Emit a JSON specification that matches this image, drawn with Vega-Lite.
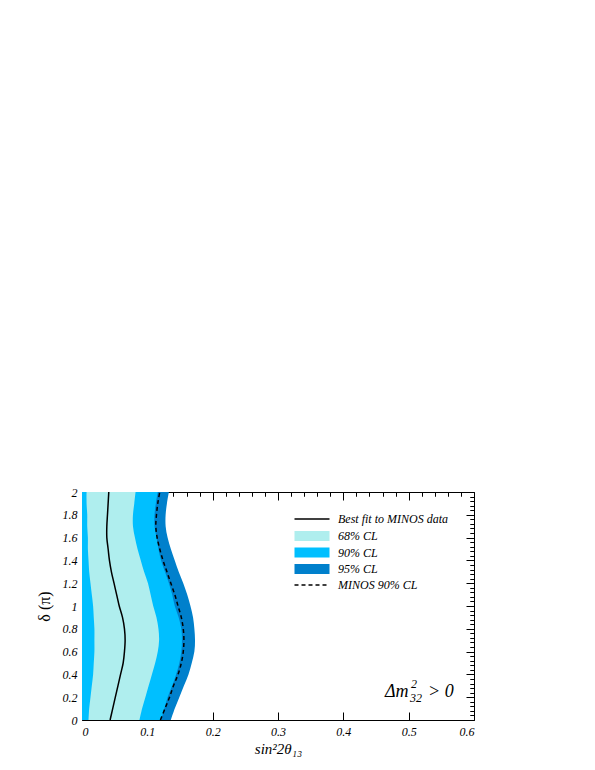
{
  "$schema": "https://vega.github.io/schema/vega-lite/v6.json",
  "width": 392,
  "height": 228,
  "autosize": {"type": "none"},
  "padding": {"left": 82, "top": 492, "right": 121, "bottom": 50},
  "background": "white",
  "config": {
    "view": {"stroke": "black", "strokeWidth": 1},
    "axis": {
      "domain": false, "grid": false, "tickColor": "black", "tickWidth": 1,
      "labelFont": "Liberation Serif", "labelFontStyle": "italic", "labelFontSize": 12, "labelColor": "black",
      "titleFont": "Liberation Serif", "titleColor": "black", "titleFontWeight": "normal"
    },
    "legend": {
      "title": null, "orient": "none", "symbolSize": 100, "labelOffset": 20, "rowPadding": 4.5,
      "labelFont": "Liberation Serif", "labelFontStyle": "italic", "labelFontSize": 12, "labelColor": "black",
      "symbolOpacity": 1
    }
  },
  "data": {"values": [
    {"d": 0.0, "l68": 0.010, "best": 0.043, "r68": 0.088, "r90": 0.121, "minos": 0.120, "r95": 0.136},
    {"d": 0.1, "l68": 0.011, "best": 0.047, "r68": 0.092, "r90": 0.126, "minos": 0.127, "r95": 0.142},
    {"d": 0.2, "l68": 0.013, "best": 0.051, "r68": 0.097, "r90": 0.131, "minos": 0.134, "r95": 0.149},
    {"d": 0.3, "l68": 0.015, "best": 0.055, "r68": 0.102, "r90": 0.138, "minos": 0.140, "r95": 0.156},
    {"d": 0.4, "l68": 0.017, "best": 0.059, "r68": 0.107, "r90": 0.144, "minos": 0.147, "r95": 0.163},
    {"d": 0.5, "l68": 0.018, "best": 0.063, "r68": 0.112, "r90": 0.149, "minos": 0.152, "r95": 0.168},
    {"d": 0.6, "l68": 0.019, "best": 0.065, "r68": 0.116, "r90": 0.152, "minos": 0.155, "r95": 0.172},
    {"d": 0.7, "l68": 0.019, "best": 0.066, "r68": 0.118, "r90": 0.153, "minos": 0.156, "r95": 0.173},
    {"d": 0.8, "l68": 0.019, "best": 0.065, "r68": 0.117, "r90": 0.152, "minos": 0.155, "r95": 0.172},
    {"d": 0.9, "l68": 0.018, "best": 0.062, "r68": 0.114, "r90": 0.148, "minos": 0.152, "r95": 0.170},
    {"d": 1.0, "l68": 0.017, "best": 0.057, "r68": 0.109, "r90": 0.142, "minos": 0.147, "r95": 0.166},
    {"d": 1.1, "l68": 0.015, "best": 0.053, "r68": 0.105, "r90": 0.138, "minos": 0.142, "r95": 0.161},
    {"d": 1.2, "l68": 0.013, "best": 0.049, "r68": 0.101, "r90": 0.133, "minos": 0.136, "r95": 0.155},
    {"d": 1.3, "l68": 0.011, "best": 0.045, "r68": 0.095, "r90": 0.127, "minos": 0.130, "r95": 0.148},
    {"d": 1.4, "l68": 0.010, "best": 0.042, "r68": 0.090, "r90": 0.121, "minos": 0.124, "r95": 0.142},
    {"d": 1.5, "l68": 0.009, "best": 0.040, "r68": 0.085, "r90": 0.117, "minos": 0.119, "r95": 0.136},
    {"d": 1.6, "l68": 0.009, "best": 0.038, "r68": 0.081, "r90": 0.114, "minos": 0.115, "r95": 0.131},
    {"d": 1.7, "l68": 0.008, "best": 0.038, "r68": 0.078, "r90": 0.111, "minos": 0.113, "r95": 0.128},
    {"d": 1.8, "l68": 0.008, "best": 0.039, "r68": 0.078, "r90": 0.111, "minos": 0.114, "r95": 0.128},
    {"d": 1.9, "l68": 0.007, "best": 0.040, "r68": 0.080, "r90": 0.113, "minos": 0.116, "r95": 0.130},
    {"d": 2.0, "l68": 0.007, "best": 0.041, "r68": 0.082, "r90": 0.116, "minos": 0.119, "r95": 0.133}
  ]},
  "layer": [
    {
      "mark": {"type": "area", "orient": "horizontal", "opacity": 1, "interpolate": "catmull-rom"},
      "encoding": {
        "x": {"field": "r95", "type": "quantitative", "stack": null,
          "scale": {"domain": [0, 0.6], "nice": false},
          "axis": {"values": [0, 0.1, 0.2, 0.3, 0.4, 0.5, 0.6], "format": "~g", "tickSize": -8, "labelPadding": 14,
            "title": "sin²2θ₁₃", "titleFontStyle": "italic", "titleFontSize": 15, "titlePadding": 4}},
        "y": {"field": "d", "type": "quantitative",
          "scale": {"domain": [0, 2], "nice": false},
          "axis": {"values": [0, 0.2, 0.4, 0.6, 0.8, 1, 1.2, 1.4, 1.6, 1.8, 2], "format": "~g", "tickSize": -8, "labelPadding": 13,
            "title": "δ (π)", "titleFontStyle": "normal", "titleFontSize": 16, "titlePadding": 10}},
        "fill": {"datum": "95% CL",
          "scale": {"domain": ["68% CL", "90% CL", "95% CL"], "range": ["#afeeee", "#00bfff", "#0080cc"]},
          "legend": {"legendX": 224, "legendY": 38, "symbolType": "M-3.5,-1H3.5V1H-3.5Z", "symbolStrokeWidth": 0}}
      }
    },
    {
      "mark": {"type": "area", "orient": "horizontal", "opacity": 1, "interpolate": "catmull-rom"},
      "encoding": {
        "x": {"field": "r90", "type": "quantitative", "stack": null,
          "axis": {"values": [0.02, 0.04, 0.06, 0.08, 0.12, 0.14, 0.16, 0.18, 0.22, 0.24, 0.26, 0.28, 0.32, 0.34, 0.36, 0.38, 0.42, 0.44, 0.46, 0.48, 0.52, 0.54, 0.56, 0.58],
            "tickSize": -4, "labels": false, "title": null}},
        "y": {"field": "d", "type": "quantitative",
          "axis": {"values": [0.04, 0.08, 0.12, 0.16, 0.24, 0.28, 0.32, 0.36, 0.44, 0.48, 0.52, 0.56, 0.64, 0.68, 0.72, 0.76, 0.84, 0.88, 0.92, 0.96, 1.04, 1.08, 1.12, 1.16, 1.24, 1.28, 1.32, 1.36, 1.44, 1.48, 1.52, 1.56, 1.64, 1.68, 1.72, 1.76, 1.84, 1.88, 1.92, 1.96],
            "tickSize": -4, "labels": false, "title": null}},
        "fill": {"datum": "90% CL"}
      }
    },
    {
      "mark": {"type": "area", "orient": "horizontal", "opacity": 1, "interpolate": "catmull-rom"},
      "encoding": {
        "x": {"field": "l68", "type": "quantitative", "stack": null,
          "axis": {"orient": "top", "values": [0, 0.1, 0.2, 0.3, 0.4, 0.5, 0.6], "tickSize": -8, "labels": false, "title": null}},
        "x2": {"field": "r68"},
        "y": {"field": "d", "type": "quantitative",
          "axis": {"orient": "right", "values": [0, 0.2, 0.4, 0.6, 0.8, 1, 1.2, 1.4, 1.6, 1.8, 2], "tickSize": -8, "labels": false, "title": null}},
        "fill": {"datum": "68% CL"}
      }
    },
    {
      "mark": {"type": "line", "strokeWidth": 1.5, "interpolate": "catmull-rom"},
      "encoding": {
        "x": {"field": "best", "type": "quantitative",
          "axis": {"orient": "top", "values": [0.02, 0.04, 0.06, 0.08, 0.12, 0.14, 0.16, 0.18, 0.22, 0.24, 0.26, 0.28, 0.32, 0.34, 0.36, 0.38, 0.42, 0.44, 0.46, 0.48, 0.52, 0.54, 0.56, 0.58],
            "tickSize": -4, "labels": false, "title": null}},
        "y": {"field": "d", "type": "quantitative",
          "axis": {"orient": "right", "values": [0.04, 0.08, 0.12, 0.16, 0.24, 0.28, 0.32, 0.36, 0.44, 0.48, 0.52, 0.56, 0.64, 0.68, 0.72, 0.76, 0.84, 0.88, 0.92, 0.96, 1.04, 1.08, 1.12, 1.16, 1.24, 1.28, 1.32, 1.36, 1.44, 1.48, 1.52, 1.56, 1.64, 1.68, 1.72, 1.76, 1.84, 1.88, 1.92, 1.96],
            "tickSize": -4, "labels": false, "title": null}},
        "order": {"field": "d"},
        "stroke": {"datum": "Best fit to MINOS data", "scale": {"domain": ["Best fit to MINOS data"], "range": ["black"]},
          "legend": {"legendX": 224, "legendY": 21, "symbolType": "M-3.5,0H3.5", "symbolStrokeWidth": 1.5, "symbolStrokeColor": "black"}}
      }
    },
    {
      "mark": {"type": "line", "strokeWidth": 1.5, "color": "black", "interpolate": "catmull-rom"},
      "encoding": {
        "x": {"field": "minos", "type": "quantitative", "axis": null},
        "y": {"field": "d", "type": "quantitative", "axis": null},
        "order": {"field": "d"},
        "strokeDash": {"datum": "MINOS 90% CL", "scale": {"domain": ["MINOS 90% CL"], "range": [[4, 3]]},
          "legend": {"legendX": 224, "legendY": 87, "symbolType": "M-3.5,0H3.5", "symbolStrokeWidth": 1.5, "symbolStrokeColor": "black"}}
      }
    },
    {
      "data": {"values": [{"label": "Δm"}]},
      "mark": {"type": "text", "align": "left", "baseline": "alphabetic", "font": "Liberation Serif", "fontSize": 18, "fontStyle": "italic", "color": "black"},
      "encoding": {
        "x": {"datum": 0.4638, "type": "quantitative", "axis": null},
        "y": {"datum": 0.2, "type": "quantitative", "axis": null},
        "text": {"field": "label"}
      }
    },
    {
      "data": {"values": [{"label": "2"}]},
      "mark": {"type": "text", "align": "left", "baseline": "alphabetic", "font": "Liberation Serif", "fontSize": 12, "fontStyle": "italic", "color": "black", "dx": 26, "dy": -9},
      "encoding": {
        "x": {"datum": 0.4638, "type": "quantitative", "axis": null},
        "y": {"datum": 0.2, "type": "quantitative", "axis": null},
        "text": {"field": "label"}
      }
    },
    {
      "data": {"values": [{"label": "32"}]},
      "mark": {"type": "text", "align": "left", "baseline": "alphabetic", "font": "Liberation Serif", "fontSize": 12, "fontStyle": "italic", "color": "black", "dx": 25, "dy": 5},
      "encoding": {
        "x": {"datum": 0.4638, "type": "quantitative", "axis": null},
        "y": {"datum": 0.2, "type": "quantitative", "axis": null},
        "text": {"field": "label"}
      }
    },
    {
      "data": {"values": [{"label": "> 0"}]},
      "mark": {"type": "text", "align": "left", "baseline": "alphabetic", "font": "Liberation Serif", "fontSize": 18, "fontStyle": "italic", "color": "black", "dx": 43},
      "encoding": {
        "x": {"datum": 0.4638, "type": "quantitative", "axis": null},
        "y": {"datum": 0.2, "type": "quantitative", "axis": null},
        "text": {"field": "label"}
      }
    }
  ],
  "resolve": {"axis": {"x": "independent", "y": "independent"}}
}
